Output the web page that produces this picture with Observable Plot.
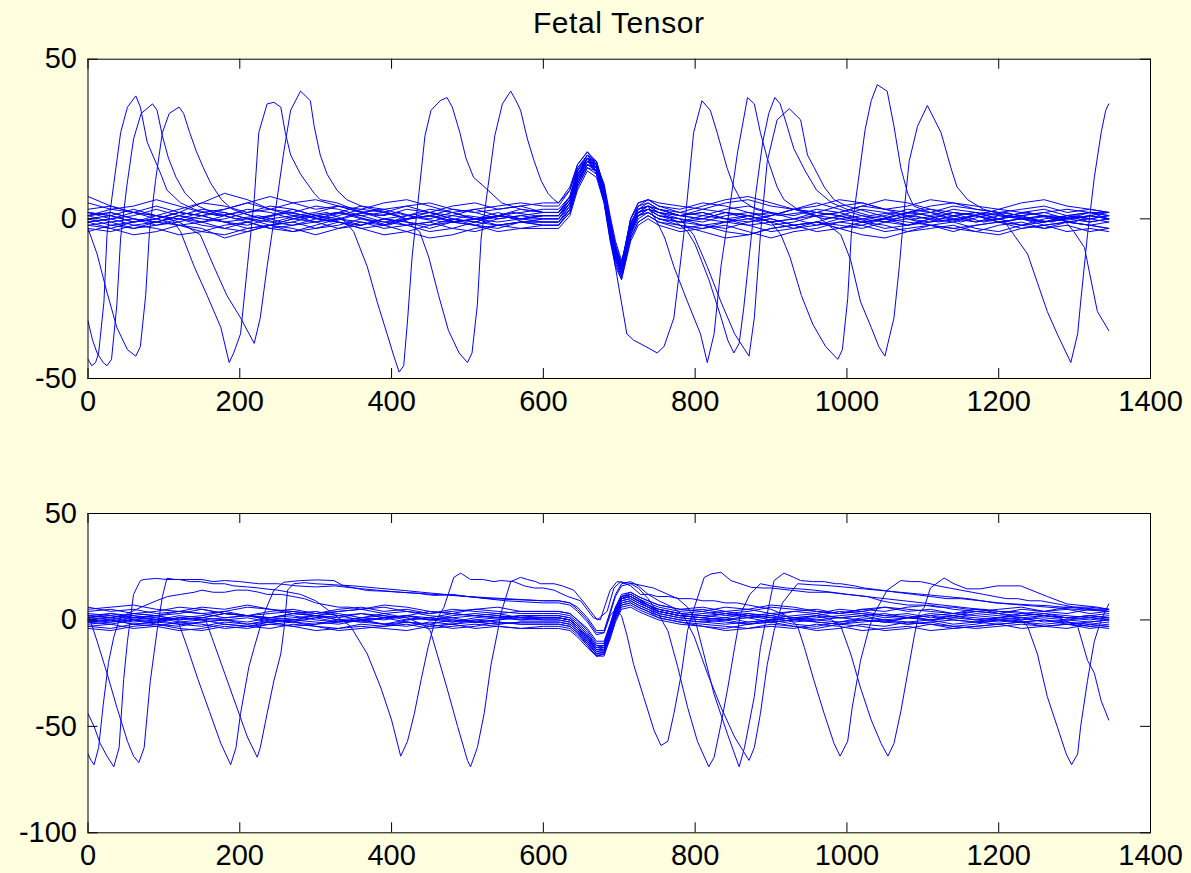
<!DOCTYPE html>
<html>
<head>
<meta charset="utf-8">
<script src="https://cdn.jsdelivr.net/npm/d3@7"></script>
<script src="https://cdn.jsdelivr.net/npm/@observablehq/plot@0.6"></script>
<style>
html, body { margin: 0; padding: 0; background: #ffffe0; }
#fig { position: relative; width: 1191px; height: 873px; background: #ffffe0; overflow: hidden; }
#title { position: absolute; left: 87.5px; width: 1062.5px; top: 8px; text-align: center;
  font: 30px/29px "Liberation Sans", Arial, sans-serif; letter-spacing: 0.6px; color: #000; }
#top { position: absolute; left: 0; top: 0; }
#bottom { position: absolute; left: 0; top: 440px; }
</style>
</head>
<body>
<div id="fig">
  <div id="title">Fetal Tensor</div>
  <div id="top"></div>
  <div id="bottom"></div>
</div>
<script>
// ---------- axes ----------
const xTicks = [0, 200, 400, 600, 800, 1000, 1200, 1400];
const topYTicks = [-50, 0, 50];
const bottomYTicks = [-100, -50, 0, 50];

// ---------- shared sample positions of the low-amplitude traces ----------
const xGrid = [0,30,60,90,120,150,180,210,240,270,300,330,360,390,420,450,480,510,540,570,600,
  620,635,645,658,670,680,688,695,703,715,725,738,752,
  780,810,840,870,900,930,960,990,1020,1050,1080,1110,1140,1170,1200,1230,1260,1290,1320,1345];

// ---------- top panel: low-amplitude traces ----------
const topBandTraces = [
  [1,2,0,-1,1,3,2,0,-2,-1,1,2,4,3,1,0,2,3,1,0,1, 1,6,15,20,16,7,-5,-12,-16,-2,3,4,2, 0,-1,1,2,0,-2,-1,1,3,2,0,-1,1,2,1,0,-1,1,2,1],
  [-2,-1,-3,-2,0,-1,-3,-4,-2,-1,-3,-2,0,-1,-2,-4,-3,-1,-2,-3,-2, -2,3,11,17,15,8,-3,-10,-15,-4,1,2,0, -2,-3,-1,-2,-4,-3,-1,-2,-3,-1,0,-2,-3,-2,-1,-3,-2,-1,-2,-3],
  [3,4,2,1,3,5,4,2,3,5,6,4,2,3,4,2,1,3,4,5,4, 4,9,17,21,18,9,-2,-9,-14,0,5,6,4, 3,5,4,2,1,3,4,6,5,3,2,4,5,3,2,3,4,2,3,2],
  [0,-2,-1,1,0,-2,-3,-1,1,2,0,-1,-3,-2,0,1,-1,-2,0,1,0, 0,5,13,19,17,10,-1,-9,-15,-5,1,3,1, -1,0,2,1,-1,-3,-2,0,1,-1,-2,0,2,1,-1,0,1,-1,0,-1],
  [2,0,1,3,1,-1,0,2,4,3,1,2,0,-2,1,3,2,0,1,2,3, 3,7,16,19,14,5,-6,-13,-18,-3,2,3,2, 1,2,0,-1,1,3,5,3,1,0,2,3,1,-1,0,2,1,0,1,0],
  [-3,-4,-2,-3,-5,-4,-2,-1,-3,-4,-2,0,-1,-3,-2,-1,-3,-4,-2,-1,-2, -2,2,10,16,14,6,-6,-14,-19,-6,-1,1,-1, -3,-2,-4,-5,-3,-2,-4,-3,-1,-2,-4,-3,-2,-4,-5,-3,-2,-4,-3,-4],
  [1,3,2,4,2,1,3,5,3,2,4,3,1,2,4,5,3,2,3,4,2, 2,6,14,18,17,11,1,-7,-13,-3,2,4,3, 2,1,3,4,2,1,3,2,4,3,1,2,4,3,2,1,2,3,2,2],
  [-1,0,-2,-1,1,0,-1,-3,-2,0,1,-1,-2,0,-1,-3,-1,0,-2,-1,-1, -1,4,12,18,16,8,-3,-11,-17,-4,2,3,1, 0,-2,-1,0,-2,-1,1,0,-1,-3,-2,0,-1,1,0,-2,-1,0,-1,0],
  [5,3,4,6,4,2,3,5,7,5,3,4,2,1,3,2,4,5,3,4,5, 5,9,16,20,17,9,-2,-10,-15,0,5,6,5, 4,3,5,6,4,3,2,4,5,3,4,6,5,4,3,2,3,1,2,1],
  [0,1,-1,0,2,1,-1,-2,0,1,-1,0,2,0,-2,-1,1,0,-1,0,1, 1,5,13,19,18,10,0,-8,-14,-1,3,4,2, 1,0,-1,1,2,0,-2,-1,0,1,3,2,0,-1,1,0,-1,0,2,0],
  [-4,-2,-3,-1,-2,-4,-5,-3,-2,-4,-3,-1,-3,-5,-4,-2,-1,-2,-4,-3,-3, -3,1,9,15,13,5,-7,-15,-19,-7,-2,0,-2, -4,-3,-2,-4,-6,-4,-3,-1,-2,-4,-3,-2,-1,-3,-4,-2,-3,-1,-2,-3],
  [2,1,3,1,0,2,1,3,2,0,-1,1,3,2,0,1,3,2,0,1,2, 2,7,15,20,18,10,-1,-9,-16,-2,3,5,3, 1,3,2,0,1,3,2,1,-1,0,2,1,3,2,0,1,2,0,1,2],
  [1,-1,0,-2,-1,1,2,0,-1,-2,0,2,1,-1,0,2,0,-1,1,0,0, 0,4,12,17,15,6,-4,-12,-17,-5,0,2,0, -1,1,0,-2,-1,0,2,1,-1,0,-2,-1,0,1,-1,-2,0,1,-1,0],
  [-2,-3,-1,0,-2,-1,1,-1,-3,-2,-1,-3,-2,0,-1,-2,0,-2,-3,-1,-1, -1,3,11,17,16,9,-2,-10,-16,-4,1,2,0, -1,-2,-3,-1,0,-2,-1,-3,-2,0,-1,-2,-4,-2,-1,0,-2,-1,-2,-1],
  [7,4,2,0,2,5,8,6,3,1,2,4,3,5,6,4,2,0,1,3,2, 2,6,14,19,16,8,-3,-11,-16,-2,4,6,4, 2,4,6,7,5,3,1,2,4,6,5,3,2,1,3,5,6,4,3,2],
  [-1,-3,-5,-4,-2,-3,-6,-4,-2,-3,-5,-3,-1,-2,-4,-6,-5,-3,-2,-1,-2, -2,2,10,16,15,8,-4,-13,-18,-6,-1,1,-1, -2,-4,-6,-5,-3,-2,-1,-3,-5,-6,-4,-2,-3,-4,-2,-1,-3,-2,-4,-3]
];

// ---------- top panel: traces with large maternal complexes, [x, y] ----------
const topA = [[0,-44],[5,-46],[10,-45],[14,-42],[21,-26],[25,-5],[34,11],[43,27],[52,35],[63,38.5],[69,35],[78,24],[87,19],[96,14],[104,9],[122,5],[140,3],[170,1],[200,2],[230,0],[260,2],[290,1],[320,-1],[350,1],[380,3],[410,1],[437,-4],[449,-12],[462,-24],[475,-35],[489,-42],[500,-45],[506,-42],[513,-27],[518,-6],[527,10],[536,26],[546,36],[557,40],[564,37],[570,34],[579,25],[588,18],[597,12],[606,8],[614,6],[620,5],[635,10],[645,17],[658,21],[670,17],[680,8],[688,-3],[695,-10],[703,-15],[715,0],[725,4],[738,5],[752,3],[780,1],[810,2],[840,0],[870,1],[900,-1],[913,-5],[925,-12],[940,-24],[955,-33],[972,-40],[988,-44],[994,-41],[1001,-25],[1006,-4],[1015,12],[1024,28],[1032,37],[1040,42],[1053,40],[1062,29],[1071,16],[1080,8],[1088,4],[1110,2],[1140,1],[1170,2],[1200,0],[1230,1],[1260,-1],[1290,1],[1320,0],[1345,1]];
const topB = [[0,-32],[6,-38],[12,-42],[20,-45],[25,-46],[31,-44],[38,-27],[43,-6],[51,10],[60,25],[70,33],[85,36],[91,34],[98,26],[106,19],[116,13],[128,8],[145,4],[165,2],[195,0],[225,1],[255,-1],[285,1],[315,2],[335,0],[350,-4],[368,-15],[381,-26],[394,-36],[403,-43],[410,-48],[416,-46],[421,-32],[427,-12],[436,8],[444,26],[452,34],[464,37],[473,38],[480,35],[490,27],[498,19],[508,13],[527,9],[545,5],[570,3],[600,2],[620,2],[635,7],[645,15],[658,19],[670,15],[680,6],[688,-5],[695,-12],[703,-17],[715,-3],[725,2],[738,3],[752,2],[770,0],[790,-4],[800,-8],[818,-19],[833,-30],[843,-38],[851,-42],[858,-39],[864,-28],[872,-10],[880,8],[889,24],[897,33],[905,38],[912,36],[920,30],[930,22],[945,15],[960,9],[980,5],[1000,3],[1030,1],[1060,2],[1090,0],[1120,1],[1150,-1],[1180,1],[1210,2],[1240,0],[1270,1],[1300,0],[1320,1],[1345,0]];
const topC = [[0,-3],[12,-11],[25,-23],[38,-34],[52,-41],[63,-43],[69,-40],[76,-24],[81,-4],[89,12],[98,27],[107,33],[120,35],[126,33],[134,27],[143,21],[152,16],[162,11],[176,6],[190,3],[215,1],[245,-1],[275,1],[305,0],[335,2],[365,0],[395,-2],[425,0],[455,1],[485,-1],[515,0],[545,1],[575,-1],[600,0],[620,0],[635,5],[645,13],[658,18],[670,15],[680,6],[688,-5],[697,-18],[710,-36],[719,-38],[735,-40],[750,-42],[759,-40],[772,-31],[785,-5],[798,27],[809,37],[820,34],[829,27],[842,16],[851,10],[860,6],[880,3],[910,1],[940,2],[970,0],[1000,1],[1030,-1],[1060,1],[1090,2],[1120,0],[1150,1],[1180,-1],[1205,0],[1220,-5],[1238,-11],[1251,-20],[1264,-29],[1277,-36],[1295,-45],[1304,-36],[1308,-26],[1317,-5],[1326,13],[1335,27],[1341,34],[1345,36]];
const topD = [[0,1],[30,2],[60,0],[90,-1],[110,0],[122,-4],[140,-15],[157,-24],[175,-34],[186,-45],[192,-42],[201,-36],[210,-15],[219,6],[225,27],[236,36],[245,36.5],[254,35],[260,27],[267,20],[280,14],[298,8],[306,6],[328,5],[350,3],[380,1],[410,2],[440,0],[470,-1],[500,1],[530,0],[560,2],[590,1],[620,1],[635,6],[645,14],[658,19],[670,16],[680,8],[688,-3],[695,-11],[703,-16],[715,-2],[725,3],[738,4],[752,-2],[760,-6],[772,-15],[790,-26],[807,-36],[816,-45],[825,-36],[834,-15],[847,6],[856,21],[869,38],[878,36],[886,27],[895,19],[908,10],[917,6],[935,3],[960,1],[990,2],[1020,0],[1050,-1],[1080,1],[1110,0],[1140,2],[1170,1],[1200,-1],[1230,0],[1260,1],[1285,0],[1299,-4],[1313,-9],[1324,-22],[1330,-29],[1345,-35]];
const topE = [[0,-1],[30,0],[60,2],[90,1],[120,-1],[148,-5],[166,-15],[183,-24],[201,-31],[219,-39],[227,-31],[236,-15],[249,6],[258,21],[267,34],[280,40],[293,37],[298,29],[306,20],[315,14],[328,9],[341,6],[360,4],[390,2],[420,0],[450,1],[480,-1],[510,0],[540,2],[570,0],[600,-1],[620,-1],[635,3],[645,11],[658,17],[670,16],[680,9],[688,-2],[695,-9],[703,-15],[715,-4],[725,1],[738,3],[752,1],[780,0],[798,-5],[816,-15],[834,-26],[852,-36],[871,-43],[878,-31],[886,-5],[895,18],[908,31],[924,34.5],[939,31],[948,20],[957,16],[970,10],[983,6],[1000,4],[1030,2],[1060,0],[1090,1],[1120,-1],[1150,0],[1180,2],[1210,1],[1240,0],[1270,-1],[1300,1],[1320,0],[1345,1]];
const topF = [[0,2],[30,1],[60,-1],[90,0],[120,2],[150,1],[180,-1],[210,0],[240,1],[270,3],[300,1],[330,0],[360,-2],[390,0],[420,1],[450,2],[480,0],[510,-1],[540,1],[570,0],[600,1],[620,1],[635,5],[645,12],[658,18],[670,17],[680,9],[688,-1],[695,-9],[703,-15],[715,-3],[725,2],[738,4],[752,3],[780,1],[810,0],[840,2],[870,1],[900,-1],[930,0],[960,1],[992,-5],[1005,-13],[1018,-26],[1032,-34],[1042,-40],[1050,-43],[1062,-31],[1069,-15],[1076,4],[1082,18],[1093,29],[1106,35.5],[1124,27],[1137,16],[1145,10],[1159,6],[1180,3],[1210,1],[1240,2],[1270,0],[1300,-1],[1320,1],[1345,0]];

// ---------- bottom panel: low-amplitude traces ----------
const bottomBandTraces = [
  [2,1,3,2,0,1,3,2,1,0,2,3,1,2,0,1,3,2,1,2,2, 2,1,-2,-7,-13,-12,-3,5,11,12,10,7,5, 3,2,1,3,2,0,1,2,3,1,2,0,1,3,2,1,2,1,2,1],
  [-1,0,-2,-1,1,0,-2,-3,-1,0,-1,-2,0,1,-1,-2,0,-1,-2,-1,-1, -1,-2,-5,-10,-16,-15,-6,2,8,9,7,5,3, 1,0,-1,-2,0,1,-1,-2,0,-1,1,0,-2,-1,0,-1,0,-2,-1,0],
  [4,5,3,4,6,5,3,2,4,5,3,4,5,6,4,3,5,4,3,4,4, 4,3,0,-5,-11,-11,-2,6,12,13,11,9,7, 5,4,6,5,3,4,5,3,4,6,5,4,3,5,4,3,4,5,3,4],
  [0,1,-1,0,2,1,0,-1,1,2,0,-1,1,0,2,1,-1,0,1,0,0, 0,-1,-4,-9,-15,-14,-5,3,9,10,8,6,4, 2,1,0,1,-1,0,2,1,0,-1,1,0,2,1,0,1,-1,0,1,0],
  [-3,-4,-2,-3,-5,-4,-2,-3,-4,-2,-3,-5,-4,-3,-2,-4,-3,-2,-3,-4,-3, -3,-4,-7,-12,-17,-17,-8,0,6,7,5,3,1, -1,-2,-3,-4,-2,-3,-4,-2,-3,-5,-4,-2,-3,-4,-3,-2,-3,-4,-2,-3],
  [1,3,2,0,1,2,4,2,1,3,2,0,1,3,4,2,1,2,3,1,1, 1,0,-3,-8,-14,-14,-4,4,10,11,9,7,5, 3,2,3,1,2,4,3,1,2,3,1,2,3,2,1,3,2,1,2,1],
  [-2,-1,0,-2,-3,-1,0,-2,-1,-3,-2,0,-1,-2,-3,-1,-2,0,-1,-2,-2, -2,-3,-6,-11,-16,-16,-7,1,7,8,6,4,2, 0,-1,-2,-1,0,-2,-3,-1,0,-1,-2,-1,-3,-2,0,-1,-2,-1,-3,-2],
  [3,2,1,2,4,3,1,2,3,4,2,1,3,2,1,0,2,3,2,1,1, 1,0,-3,-8,-13,-13,-4,4,10,11,9,7,4, 2,3,4,2,3,1,2,4,3,2,1,3,2,0,1,2,3,2,1,2],
  [-4,-5,-3,-2,-4,-5,-3,-4,-2,-3,-5,-4,-3,-4,-5,-3,-2,-4,-3,-4,-4, -4,-5,-8,-13,-17,-16,-9,-1,5,6,4,2,0, -2,-3,-5,-4,-3,-4,-2,-3,-5,-4,-3,-5,-4,-3,-2,-4,-3,-2,-3,-4],
  [0,-1,1,0,-2,-1,0,1,-1,0,1,-1,0,-2,0,1,0,-1,0,1,0, 0,-1,-4,-10,-15,-15,-5,3,9,10,8,6,3, 1,0,1,-1,0,1,0,-1,1,0,-1,0,1,0,-1,0,1,0,-1,0],
  [6,4,5,3,4,6,5,7,5,4,3,5,6,4,5,3,4,5,4,3,3, 3,2,-1,-6,-12,-12,-3,5,11,12,10,8,6, 4,5,3,4,6,5,4,3,5,6,4,5,3,4,5,6,4,3,5,4],
  [1,0,2,1,-1,0,1,2,0,-1,1,2,0,1,2,0,-1,1,2,0,1, 1,0,-3,-9,-14,-14,-4,4,10,11,9,6,4, 2,1,0,2,1,-1,0,1,2,0,1,2,0,-1,1,0,2,1,0,1],
  [-1,-2,0,-1,-2,-3,-1,-2,0,-1,-2,-1,0,-2,-1,-3,-2,-1,-2,-1,-1, -1,-2,-5,-11,-16,-15,-6,2,8,9,7,5,2, 0,-1,0,-2,-1,0,-1,-2,-1,0,-2,-1,0,-1,-2,-1,0,-1,-2,-1],
  [2,3,1,2,3,5,3,2,1,3,4,2,3,1,2,4,3,2,1,2,2, 2,1,-2,-7,-12,-13,-4,4,10,12,10,7,5, 3,4,2,3,1,2,3,5,4,2,3,1,2,4,3,2,3,1,2,3],
  [-3,-2,-4,-3,-1,-2,-4,-3,-2,-1,-3,-4,-2,-3,-1,-2,-4,-3,-1,-2,-2, -2,-3,-6,-12,-17,-16,-7,1,7,8,6,4,1, -1,-3,-4,-2,-1,-3,-5,-4,-2,-3,-1,-2,-4,-3,-2,-1,-3,-2,-4,-3],
  [5,6,7,5,4,3,4,6,5,3,2,4,5,7,6,4,3,5,6,4,4, 4,3,0,-4,-10,-10,-2,6,11,13,11,9,7, 5,6,4,5,7,6,4,3,5,4,6,7,5,4,3,5,4,6,5,4]
];

// ---------- bottom panel: traces with large maternal complexes, [x, y] ----------
const bottomA = [[0,-63],[4,-66],[8,-68],[14,-60],[20,-40],[27,-20],[34,-8],[41,0],[52,3],[70,6],[90,9],[105,11],[122,12],[140,13],[150,14],[165,13],[180,13],[195,14],[210,14],[225,13],[236,12],[255,12],[270,11],[285,10],[300,8],[315,7],[330,6],[345,6],[360,5],[375,4],[390,3],[405,2],[420,1],[440,-2],[451,-5],[460,-16],[473,-32],[487,-50],[500,-66],[504,-69],[513,-60],[522,-44],[531,-21],[540,-5],[544,3],[557,18],[570,20],[579,19],[590,18],[596,17],[614,17],[625,16],[640,14],[654,8],[671,0],[684,4],[693,15],[702,18],[715,16],[728,12],[740,12],[750,11],[765,11],[780,10],[795,10],[810,9],[825,9],[840,8],[855,8],[870,7],[885,6],[900,5],[920,2],[935,-3],[944,-13],[957,-29],[970,-44],[983,-58],[991,-64],[1001,-57],[1007,-41],[1018,-19],[1029,-4],[1036,3],[1053,14],[1071,18.5],[1085,18],[1097,18],[1110,17],[1120,16],[1135,15],[1150,14],[1165,13],[1180,12],[1195,11],[1210,10],[1225,10],[1240,9],[1255,9],[1270,8],[1285,7],[1300,6],[1320,6],[1345,5]];
const bottomB = [[0,-44],[8,-50],[16,-58],[25,-64],[34,-69],[41,-60],[47,-28],[52,-10],[60,12],[69,18.5],[74,19],[90,19.5],[104,19],[120,19],[135,18],[148,18],[165,17],[180,17],[192,16],[210,15.5],[225,15],[236,14.5],[250,14],[265,13],[280,12],[300,9],[315,5],[330,1],[346,-3],[368,-16],[386,-32],[400,-47],[412,-64],[421,-57],[430,-44],[439,-28],[448,-13],[456,-2],[469,6],[482,20],[491,22],[504,19],[520,19],[535,18],[544,18.5],[561,18],[575,16],[588,15],[600,15],[614,14],[632,11],[649,9],[666,1],[675,0],[688,14],[697,18],[719,17],[745,15],[777,10],[790,6],[800,0],[810,-14],[825,-35],[843,-54],[858,-69],[865,-60],[878,-36],[886,-13],[895,3],[904,18.5],[917,22],[930,20],[939,18.5],[955,18],[970,18],[985,17],[992,17],[1010,16],[1023,15],[1045,14],[1065,13],[1088,12],[1110,11],[1132,10],[1150,10],[1176,9],[1200,8],[1220,7.5],[1245,7],[1264,6.7],[1285,6],[1300,6],[1330,5],[1345,5]];
const bottomC = [[0,3],[12,-10],[25,-25],[38,-41],[52,-57],[60,-64],[67,-67],[74,-60],[82,-29],[91,-5],[98,11],[104,19.6],[115,19],[130,19],[150,19],[165,18],[180,18.5],[200,18],[225,17],[250,17],[275,16],[300,15.5],[325,16],[350,15],[380,14],[412,13],[435,12.5],[456,11.5],[480,12],[500,11],[525,10.5],[550,10],[575,9.5],[600,9],[620,9],[635,8],[645,5],[658,0],[670,-6],[680,-6],[688,2],[695,5],[703,2],[710,-7],[719,-21],[732,-36],[746,-52],[755,-59],[764,-57],[772,-44],[782,-25],[790,-5],[799,6],[812,20],[821,21.6],[834,22.4],[847,18.5],[874,15.3],[890,15],[900,15],[925,14],[950,13],[975,13],[1000,12],[1025,11],[1050,10],[1075,9],[1100,8],[1125,7],[1150,6],[1175,5],[1200,3],[1225,1],[1238,-3],[1251,-16],[1264,-36],[1277,-50],[1289,-63],[1296,-68],[1304,-63],[1308,-50],[1317,-28.5],[1326,-10],[1335,0],[1345,7.5]];
const bottomD = [[0,1],[30,2],[60,0],[90,1],[118,0],[130,-12],[145,-28],[160,-43],[175,-58],[188,-68],[195,-60],[201,-44],[212,-22],[219,-13],[232,3],[245,14],[258,17.7],[280,18.5],[302,18.8],[324,18.5],[337,16],[352,15],[368,13.8],[390,13.5],[412,13],[435,12.5],[456,12],[480,11.5],[500,11],[525,10],[550,9],[575,8.5],[600,8],[620,8],[635,7],[645,4],[658,-1],[670,-7],[680,-6],[688,3],[695,11],[703,16],[715,17],[725,15],[738,10],[752,3],[759,-2],[764,-5],[777,-22],[790,-41],[803,-57],[818,-69],[825,-64.5],[834,-49],[843,-32],[852,-13],[860,3],[872,12],[886,17],[900,16],[920,15],[940,14.5],[957,14],[980,13],[1001,12],[1027,11],[1045,9],[1060,8],[1080,7],[1100,7],[1120,6],[1140,6],[1160,5],[1180,5],[1200,4],[1220,4],[1240,3],[1260,2],[1280,1],[1304,-3],[1317,-19],[1326,-25],[1335,-38],[1345,-47]];
const bottomE = [[0,-1],[30,0],[60,-2],[90,-1],[120,1],[155,0],[165,-10],[180,-25],[195,-40],[210,-55],[223,-64.5],[227,-60],[236,-44],[245,-28.5],[254,-16],[258,-5],[263,14],[271,17],[285,17.5],[300,17],[325,16.5],[350,16],[380,15],[412,14],[440,13],[470,12],[500,11],[530,10],[565,9.5],[600,9],[620,9],[635,8],[645,6],[658,1],[670,-5],[680,-5],[688,4],[695,12],[703,17],[715,18],[725,16],[738,12],[752,9],[770,6],[785,2],[799,-8],[816,-25],[834,-41],[852,-55],[871,-66],[878,-60],[886,-44],[895,-21],[904,-5],[915,8],[935,17],[955,16.5],[980,16],[1010,15],[1040,14],[1070,13],[1100,12],[1130,11],[1160,10],[1195,8],[1230,7],[1265,6],[1300,5],[1345,4]];
const bottomF = [[0,2],[30,1],[60,3],[90,2],[120,0],[150,1],[180,3],[210,2],[240,0],[270,1],[300,2],[330,0],[360,-1],[390,1],[420,2],[450,0],[480,1],[510,-1],[540,0],[570,2],[600,1],[620,1],[635,0],[645,-3],[658,-8],[670,-14],[680,-13],[688,-4],[695,4],[703,10],[715,11],[725,9],[738,7],[752,4],[780,2],[810,1],[840,3],[870,2],[900,0],[930,1],[960,2],[980,0],[992,-3],[1005,-16],[1018,-32],[1032,-47],[1045,-58],[1054,-64],[1062,-58],[1071,-43],[1080,-25],[1089,-7],[1095,3],[1102,6],[1110,15],[1128,19.7],[1141,17],[1158,14.6],[1176,14.6],[1198,16],[1229,16],[1264,11],[1290,7.5],[1330,6],[1345,5]];

// ---------- build long tables ----------
function buildRows(bandTraces, bigTraces) {
  const rows = [];
  bandTraces.forEach((vals, k) => xGrid.forEach((x, i) => rows.push({id: "band" + k, x, y: vals[i]})));
  bigTraces.forEach((pts, k) => pts.forEach(([x, y]) => rows.push({id: "big" + k, x, y})));
  return rows;
}
const topRows = buildRows(topBandTraces, [topA, topB, topC, topD, topE, topF]);
const bottomRows = buildRows(bottomBandTraces, [bottomA, bottomB, bottomC, bottomD, bottomE, bottomF]);

// ---------- draw ----------
function drawPanel({rows, yDomain, yTicks, height, marginTop, marginBottom}) {
  const width = 1191, marginLeft = 87.5, marginRight = 41;
  const innerW = width - marginLeft - marginRight;
  const innerH = height - marginTop - marginBottom;
  const tick = 10;
  const font = "Liberation Sans, Arial, sans-serif";
  return Plot.plot({
    width, height, marginLeft, marginRight, marginTop, marginBottom,
    style: {background: "transparent", fontFamily: font, color: "black", overflow: "visible"},
    x: {domain: [0, 1400]},
    y: {domain: yDomain},
    marks: [
      Plot.frame({fill: "white", stroke: "none"}),
      Plot.line(rows, {x: "x", y: "y", z: "id", stroke: "#0000ff", strokeWidth: 1, clip: true}),
      Plot.ruleX(xTicks, {x: d => d, stroke: "black", insetTop: innerH - tick}),
      Plot.ruleX(xTicks, {x: d => d, stroke: "black", insetBottom: innerH - tick}),
      Plot.ruleY(yTicks, {y: d => d, stroke: "black", insetRight: innerW - tick}),
      Plot.ruleY(yTicks, {y: d => d, stroke: "black", insetLeft: innerW - tick}),
      Plot.frame({stroke: "black"}),
      Plot.axisX(xTicks, {tickSize: 0, tickPadding: 12, fontSize: 29, fontFamily: font, fill: "black", tickFormat: d => String(d), label: null}),
      Plot.axisY(yTicks, {tickSize: 0, tickPadding: 11, fontSize: 29, fontFamily: font, fill: "black", tickFormat: d => String(d), label: null})
    ]
  });
}

document.getElementById("top").append(drawPanel({
  rows: topRows, yDomain: [-50, 50], yTicks: topYTicks,
  height: 440, marginTop: 58.7, marginBottom: 62
}));
document.getElementById("bottom").append(drawPanel({
  rows: bottomRows, yDomain: [-100, 50], yTicks: bottomYTicks,
  height: 433, marginTop: 73, marginBottom: 40.7
}));
</script>
</body>
</html>
